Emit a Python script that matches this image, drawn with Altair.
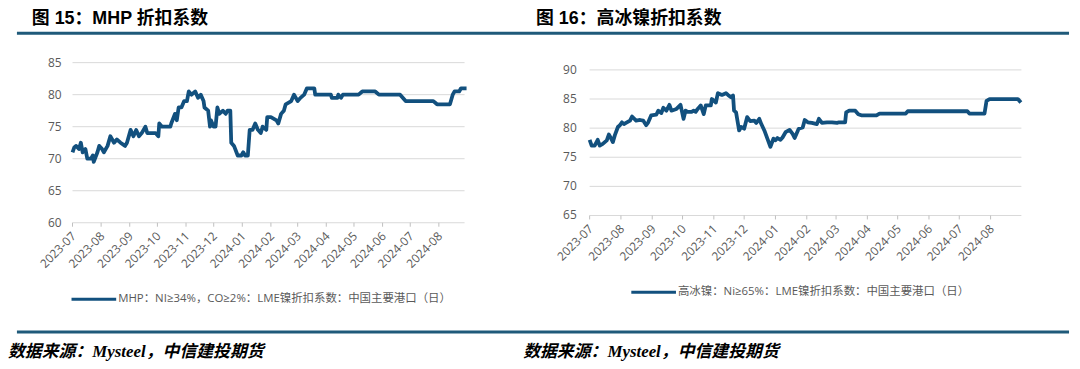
import altair as alt
import pandas as pd

# ---------------- data ----------------
mhp_dates = [
    "2023-07-01", "2023-07-03", "2023-07-05", "2023-07-08", "2023-07-10", "2023-07-12",
    "2023-07-15", "2023-07-17", "2023-07-21", "2023-07-23", "2023-07-24", "2023-07-28",
    "2023-07-30", "2023-08-02", "2023-08-04", "2023-08-08", "2023-08-11", "2023-08-15",
    "2023-08-18", "2023-08-22", "2023-08-27", "2023-08-29", "2023-09-02", "2023-09-05",
    "2023-09-08", "2023-09-11", "2023-09-14", "2023-09-18", "2023-09-20", "2023-09-29",
    "2023-10-02", "2023-10-03", "2023-10-06", "2023-10-15", "2023-10-16", "2023-10-20",
    "2023-10-22", "2023-10-24", "2023-10-27", "2023-10-30", "2023-11-02", "2023-11-04",
    "2023-11-07", "2023-11-11", "2023-11-14", "2023-11-17", "2023-11-20", "2023-11-21",
    "2023-11-25", "2023-11-27", "2023-11-28", "2023-12-01", "2023-12-03", "2023-12-05",
    "2023-12-07", "2023-12-11", "2023-12-14", "2023-12-16", "2023-12-19", "2023-12-20",
    "2023-12-23", "2023-12-27", "2023-12-31", "2024-01-02", "2024-01-04", "2024-01-07",
    "2024-01-09", "2024-01-12", "2024-01-15", "2024-01-18", "2024-01-21", "2024-01-23",
    "2024-01-27", "2024-01-28", "2024-02-01", "2024-02-07", "2024-02-09", "2024-02-12",
    "2024-02-15", "2024-02-17", "2024-02-23", "2024-02-26", "2024-03-01", "2024-03-04",
    "2024-03-08", "2024-03-11", "2024-03-19", "2024-03-20", "2024-04-06", "2024-04-07",
    "2024-04-13", "2024-04-14", "2024-04-17", "2024-04-19", "2024-05-06", "2024-05-10",
    "2024-05-24", "2024-05-28", "2024-06-20", "2024-06-26", "2024-07-26", "2024-07-30",
    "2024-08-13", "2024-08-16", "2024-08-18", "2024-08-23", "2024-08-25", "2024-08-31",
]
mhp_values = [
    71, 71.8, 72, 71.5, 72.5, 71,
    71.5, 70, 70, 70.5, 69.5, 71,
    72, 71.5, 71, 72, 73.5, 72.5,
    73, 72.5, 72, 72.5, 74.5, 73.5,
    74.5, 73.5, 74, 75, 74, 74,
    73.5, 75.5, 75, 75, 75.5, 77,
    76, 78, 78, 79, 79, 80.5,
    80, 80.5, 79.5, 80, 79, 78,
    77.5, 75, 76, 75, 75, 78,
    77, 77.5, 77, 77.5, 77.5, 72.5,
    72, 70.5, 70.5, 71, 70.5, 70.5,
    74.5, 74.5, 75.5, 74.5, 74, 75,
    74.5, 76.5, 76.5, 76, 75.5, 77,
    77.5, 78.5, 79, 80, 79, 79.5,
    80, 81, 81, 80, 80, 79.5,
    79.5, 80, 79.5, 80, 80, 80.5,
    80.5, 80, 80, 79, 79, 78.5,
    78.5, 80, 80.5, 80.5, 81, 81,
]

ni_dates = [
    "2023-07-01", "2023-07-03", "2023-07-06", "2023-07-09", "2023-07-11", "2023-07-14",
    "2023-07-18", "2023-07-20", "2023-07-22", "2023-07-24", "2023-07-26", "2023-07-29",
    "2023-07-31", "2023-08-02", "2023-08-04", "2023-08-06", "2023-08-10", "2023-08-12",
    "2023-08-16", "2023-08-20", "2023-08-23", "2023-08-26", "2023-08-28", "2023-08-31",
    "2023-09-05", "2023-09-07", "2023-09-10", "2023-09-12", "2023-09-15", "2023-09-18",
    "2023-09-20", "2023-09-25", "2023-09-29", "2023-10-02", "2023-10-04", "2023-10-06",
    "2023-10-10", "2023-10-12", "2023-10-14", "2023-10-16", "2023-10-19", "2023-10-22",
    "2023-10-24", "2023-10-29", "2023-10-30", "2023-11-03", "2023-11-05", "2023-11-09",
    "2023-11-13", "2023-11-15", "2023-11-18", "2023-11-20", "2023-11-21", "2023-11-23",
    "2023-11-26", "2023-11-28", "2023-12-01", "2023-12-04", "2023-12-07", "2023-12-11",
    "2023-12-13", "2023-12-16", "2023-12-18", "2023-12-21", "2023-12-24", "2023-12-27",
    "2023-12-30", "2024-01-01", "2024-01-03", "2024-01-06", "2024-01-08", "2024-01-11",
    "2024-01-15", "2024-01-18", "2024-01-20", "2024-01-24", "2024-01-28", "2024-01-30",
    "2024-02-02", "2024-02-06", "2024-02-11", "2024-02-13", "2024-02-16", "2024-02-21",
    "2024-02-26", "2024-03-02", "2024-03-04", "2024-03-10", "2024-03-11", "2024-03-14",
    "2024-03-20", "2024-03-23", "2024-03-26", "2024-04-10", "2024-04-13", "2024-05-09",
    "2024-05-11", "2024-07-09", "2024-07-11", "2024-07-26", "2024-07-28", "2024-07-31",
    "2024-08-28", "2024-08-31",
]
ni_values = [
    78, 77, 77, 78, 77, 77.3,
    77.9, 78.9, 78.3, 77.6, 78.8, 80.2,
    80.5, 81, 80.7, 80.9, 81.3, 82,
    81.3, 81.4, 81.3, 80.5, 81, 82.2,
    82.3, 83, 82.6, 83.5, 83, 84,
    83, 83.3, 84, 81.6, 83, 82.8,
    82.8, 83, 82.8, 83.3, 83.9, 82.4,
    83.9, 83.9, 85, 84.4, 86, 85.7,
    86, 85.7, 85.3, 85.6, 83, 82.7,
    79.6, 80.2, 79.9, 81.9, 81.2, 81.3,
    80.9, 81.6, 80.7, 79.6, 78.2, 76.8,
    78.2, 77.9, 78.3, 78, 78.4, 79.3,
    79.7, 79, 78.3, 79.9, 80.1, 81.4,
    81, 80.9, 80.7, 81.6, 80.9, 81,
    81, 80.9, 81, 81, 82.7, 83,
    83, 82.4, 82.2, 82.2, 82.5, 82.5,
    82.9, 82.9, 82.5, 82.5, 84.7, 85,
    85, 84.4,
]

month_starts = [
    "2023-07-01", "2023-08-01", "2023-09-01", "2023-10-01", "2023-11-01", "2023-12-01",
    "2024-01-01", "2024-02-01", "2024-03-01", "2024-04-01", "2024-05-01", "2024-06-01",
    "2024-07-01", "2024-08-01",
]
month_labels = [
    "2023-07", "2023-08", "2023-09", "2023-10", "2023-11", "2023-12",
    "2024-01", "2024-02", "2024-03", "2024-04", "2024-05", "2024-06",
    "2024-07", "2024-08",
]
mhp_yticks = [60, 65, 70, 75, 80, 85]
ni_yticks = [65, 70, 75, 80, 85, 90]

title_left = "图 15：MHP 折扣系数"
title_right = "图 16：高冰镍折扣系数"
legend_left = "MHP：NI≥34%，CO≥2%：LME镍折扣系数：中国主要港口（日）"
legend_right = "高冰镍：Ni≥65%：LME镍折扣系数：中国主要港口（日）"
source_text = "数据来源：Mysteel，中信建投期货"

# ---------------- styles ----------------
W, H = 1072, 361
LINE_COLOR = "#12507e"
RULE_COLOR = "#1f5a7a"
GRID_COLOR = "#d9d9d9"
LABEL_COLOR = "#595959"
TICK_FONT = "Open Sans, Noto Sans CJK SC"
LEGEND_FONT = "Open Sans, Noto Sans CJK SC"

one = pd.DataFrame({"k": [0]})
months_df = pd.DataFrame({"month": pd.to_datetime(month_starts), "label": month_labels})

DOM = [alt.DateTime(year=2023, month=7, date=1), alt.DateTime(year=2024, month=8, date=31)]


def panel(dates, values, yticks, x_range, y_range, grid_x, ylab_x, legend_text, leg_x, leg_y):
    df = pd.DataFrame({"date": pd.to_datetime(dates), "value": values})
    ydf = pd.DataFrame({"v": yticks})
    xs = alt.Scale(domain=DOM, range=x_range)
    ys = alt.Scale(domain=[yticks[0], yticks[-1]], range=y_range, nice=False, zero=False)
    axis_y = y_range[0]

    grid = alt.Chart(ydf).mark_rule(color=GRID_COLOR, strokeWidth=1).encode(
        y=alt.Y("v:Q", scale=ys, axis=None),
        x=alt.value(grid_x[0]), x2=alt.value(grid_x[1]),
    )
    ylabels = alt.Chart(ydf).mark_text(
        align="right", baseline="middle", fontSize=12, color=LABEL_COLOR, font=TICK_FONT
    ).encode(
        y=alt.Y("v:Q", scale=ys, axis=None),
        x=alt.value(ylab_x),
        text=alt.Text("v:Q"),
    )
    ticks = alt.Chart(months_df).mark_rule(color="#bfbfbf", strokeWidth=1).encode(
        x=alt.X("month:T", scale=xs, axis=None),
        y=alt.value(axis_y), y2=alt.value(axis_y + 4),
    )
    xlabels = alt.Chart(months_df).mark_text(
        align="right", baseline="middle", angle=315, fontSize=12,
        color=LABEL_COLOR, font=TICK_FONT, dx=2,
    ).encode(
        x=alt.X("month:T", scale=xs, axis=None),
        y=alt.value(axis_y + 13),
        text="label:N",
    )
    line = alt.Chart(df).mark_line(color=LINE_COLOR, strokeWidth=3.8, strokeJoin="round").encode(
        x=alt.X("date:T", scale=xs, axis=None),
        y=alt.Y("value:Q", scale=ys, axis=None),
    )
    leg_rule = alt.Chart(one).mark_rule(color=LINE_COLOR, strokeWidth=3).encode(
        x=alt.value(leg_x), x2=alt.value(leg_x + 45), y=alt.value(leg_y),
    )
    leg_text = alt.Chart(one).mark_text(
        align="left", baseline="middle", fontSize=11.5, color=LABEL_COLOR, font=LEGEND_FONT
    ).encode(
        x=alt.value(leg_x + 47), y=alt.value(leg_y), text=alt.value(legend_text),
    )
    return alt.layer(grid, ticks, xlabels, ylabels, line, leg_rule, leg_text)


left = panel(
    mhp_dates, mhp_values, mhp_yticks,
    x_range=[65, 462], y_range=[215, 53.7], grid_x=(65, 460), ylab_x=54,
    legend_text=legend_left, leg_x=64, leg_y=292,
)
right = panel(
    ni_dates, ni_values, ni_yticks,
    x_range=[586, 1020.5], y_range=[207.7, 61], grid_x=(586, 1021), ylab_x=573,
    legend_text=legend_right, leg_x=628, leg_y=285,
)

# decorations
titles = alt.Chart(one).mark_text(
    align="left", baseline="middle", fontSize=18, fontWeight="bold", color="#000000",
    font="Liberation Sans, Noto Sans CJK SC",
)
t1 = titles.encode(x=alt.value(24), y=alt.value(10), text=alt.value(title_left))
t2 = titles.encode(x=alt.value(532), y=alt.value(10), text=alt.value(title_right))
top_rule = alt.Chart(one).mark_rule(color=RULE_COLOR, strokeWidth=3).encode(
    x=alt.value(9), x2=alt.value(1069), y=alt.value(24)
)
bottom_rule = alt.Chart(one).mark_rule(color=RULE_COLOR, strokeWidth=3).encode(
    x=alt.value(9), x2=alt.value(1069), y=alt.value(325)
)
src = alt.Chart(one).mark_text(
    align="left", baseline="middle", fontSize=17, fontWeight="bold", fontStyle="italic",
    color="#000000", font="Liberation Serif, Noto Sans CJK SC",
)
s1 = src.encode(x=alt.value(0), y=alt.value(345), text=alt.value(source_text))
s2 = src.encode(x=alt.value(519), y=alt.value(345), text=alt.value(source_text))

deco = alt.layer(t1, t2, top_rule, bottom_rule, s1, s2)

chart = alt.layer(left, right, deco).resolve_scale(x="independent", y="independent").properties(
    width=W, height=H, padding=0, autosize=alt.AutoSizeParams(type="none"),
).configure_view(stroke=None)

chart.save("out.html", embed_options={"renderer": "svg", "actions": False})
